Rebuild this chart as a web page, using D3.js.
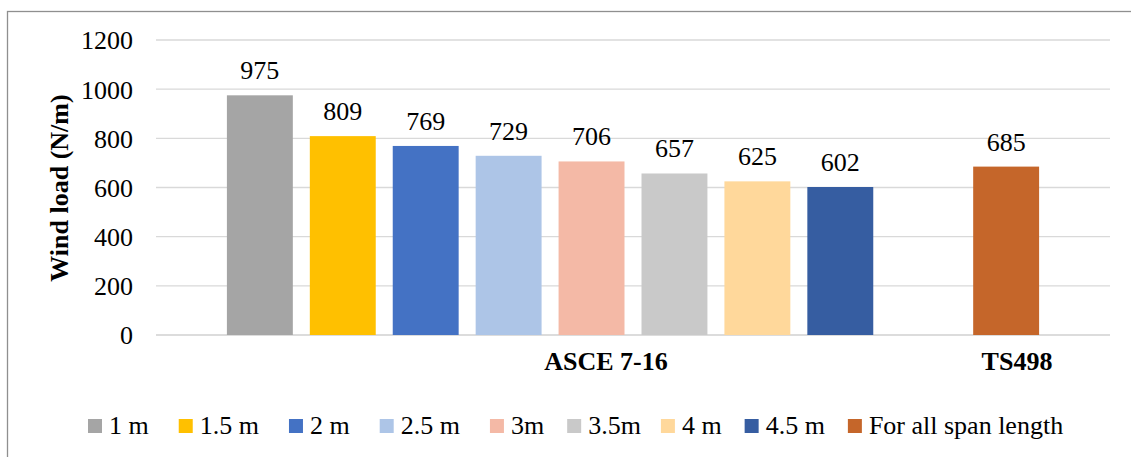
<!DOCTYPE html>
<html>
<head>
<meta charset="utf-8">
<script src="https://cdn.jsdelivr.net/npm/d3@7/dist/d3.min.js"></script>
<style>
  html, body { margin: 0; padding: 0; background: #ffffff; }
  svg { display: block; }
  svg text { font-family: "Liberation Serif", "Times New Roman", Times, serif !important; fill: #000; }
</style>
</head>
<body>
<svg id="chart" width="1131" height="457" font-family="Liberation Serif, Times New Roman, serif"></svg>
<script>
// ---- data ----
const seriesNames = ["1 m", "1.5 m", "2 m", "2.5 m", "3m", "3.5m", "4 m", "4.5 m", "For all span length"];
const seriesValues = [975, 809, 769, 729, 706, 657, 625, 602, 685];
const seriesColors = ["#a5a5a5", "#ffc000", "#4472c4", "#adc5e7", "#f4b9a6", "#c9c9c9", "#ffd89b", "#365da1", "#c5662a"];
const groupLabels = ["ASCE 7-16", "TS498"];
const yTicks = [0, 200, 400, 600, 800, 1000, 1200];
const yTitle = "Wind load (N/m)";

// ---- layout ----
const W = 1131, H = 457;
const plot = { left: 156, right: 1110, top: 40, bottom: 335 };
const groupLabelFrac = [0.4717, 0.9025];
const legendGaps = [30, 30, 30, 30, 23, 20, 23, 23];
const fontSize = 26;
const FONT = "'Liberation Serif', 'Times New Roman', serif";

const svg = d3.select("#chart");

// outer chart border (extends past right / bottom edges like the reference)
svg.append("rect")
  .attr("x", 7.5).attr("y", 11.5)
  .attr("width", W + 20).attr("height", H + 20)
  .attr("fill", "#fff")
  .attr("stroke", "#8f8f8f").attr("stroke-width", 1.3);

// scales
const slots = seriesNames.slice(0, 8).concat(["__gap__"], seriesNames.slice(8));
const x = d3.scaleBand()
  .domain(slots)
  .range([plot.left, plot.right])
  .paddingInner(0.205)
  .paddingOuter(0.855);

const y = d3.scaleLinear().domain([0, 1200]).range([plot.bottom, plot.top]);

// gridlines
svg.append("g")
  .selectAll("line")
  .data(yTicks)
  .join("line")
  .attr("x1", plot.left).attr("x2", plot.right)
  .attr("y1", d => y(d)).attr("y2", d => y(d))
  .attr("stroke", d => d === 0 ? "#d0d0d0" : "#d9d9d9")
  .attr("stroke-width", d => d === 0 ? 1.6 : 1.3);

// y axis tick labels via d3 axis
const yAxis = d3.axisLeft(y).tickValues(yTicks).tickSize(0).tickPadding(0).tickFormat(d3.format("d"));
const yg = svg.append("g").attr("transform", `translate(${133},0)`).call(yAxis);
yg.attr("font-family", null).attr("font-size", null);
yg.select(".domain").remove();
yg.selectAll("text")
  .style("font-family", FONT)
  .style("font-size", fontSize + "px")
  .attr("fill", "#000")
  .attr("dy", "0.34em");

// y axis title
svg.append("text")
  .attr("transform", `translate(68, ${188}) rotate(-90)`)
  .attr("text-anchor", "middle")
  .style("font-family", FONT)
  .style("font-size", fontSize + "px")
  .style("font-weight", "bold")
  .text(yTitle);

// bars
const data = seriesNames.map((n, i) => ({ name: n, value: seriesValues[i], color: seriesColors[i] }));
svg.append("g")
  .selectAll("rect")
  .data(data)
  .join("rect")
  .attr("x", d => x(d.name))
  .attr("width", x.bandwidth())
  .attr("y", d => y(d.value))
  .attr("height", d => y(0) - y(d.value))
  .attr("fill", d => d.color);

// data labels
svg.append("g")
  .selectAll("text")
  .data(data)
  .join("text")
  .attr("x", d => x(d.name) + x.bandwidth() / 2)
  .attr("y", d => y(d.value) - 16)
  .attr("text-anchor", "middle")
  .style("font-family", FONT)
  .style("font-size", fontSize + "px")
  .text(d => d.value);

// category (group) labels
svg.append("g")
  .selectAll("text")
  .data(groupLabels)
  .join("text")
  .attr("x", (d, i) => plot.left + groupLabelFrac[i] * (plot.right - plot.left))
  .attr("y", 370)
  .attr("text-anchor", "middle")
  .style("font-family", FONT)
  .style("font-size", fontSize + "px")
  .style("font-weight", "bold")
  .text(d => d);

// legend
const legend = svg.append("g");
let lx = 88;
const markerSize = 14, markerGap = 7, legendY = 419;
data.forEach((d, i) => {
  legend.append("rect")
    .attr("x", lx).attr("y", legendY)
    .attr("width", markerSize).attr("height", markerSize)
    .attr("fill", d.color);
  const t = legend.append("text")
    .attr("x", lx + markerSize + markerGap)
    .attr("y", 434)
    .style("font-family", FONT)
    .style("font-size", fontSize + "px")
    .text(d.name);
  lx += markerSize + markerGap + t.node().getComputedTextLength() + (legendGaps[i] || 0);
});
</script>
</body>
</html>
